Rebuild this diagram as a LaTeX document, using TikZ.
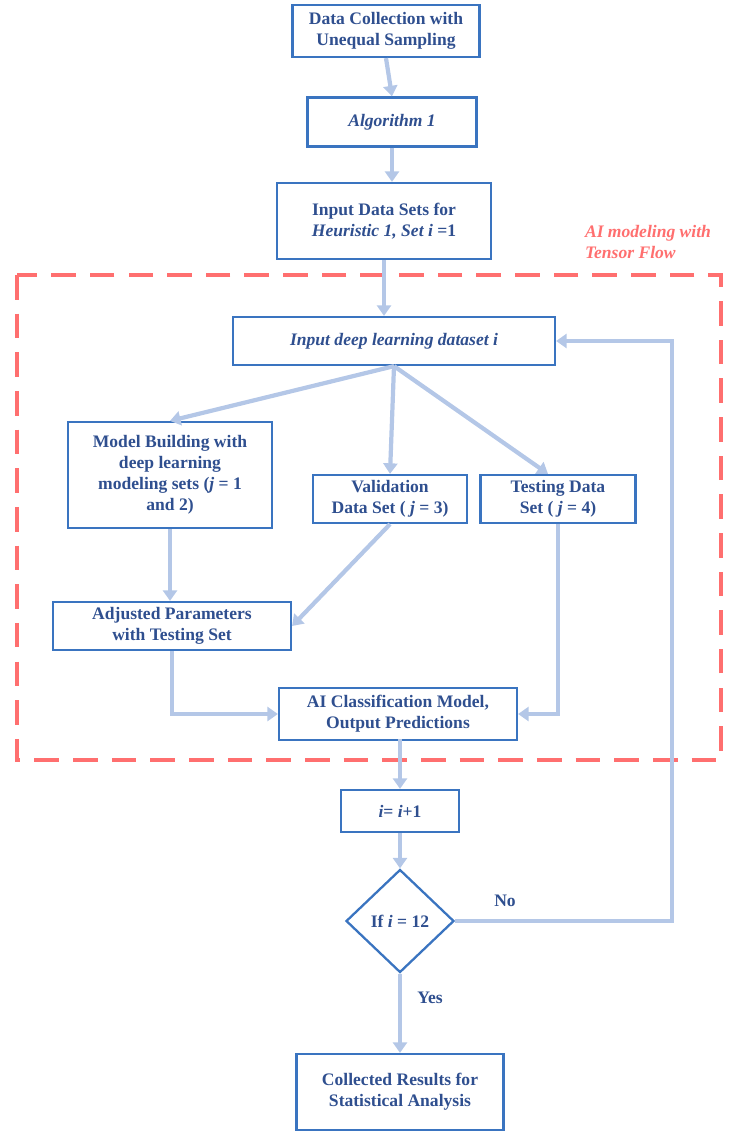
\documentclass[tikz,border=0pt]{standalone}
\usepackage{fontspec}
\setmainfont{Liberation Serif}
\usetikzlibrary{shapes.geometric}
\usetikzlibrary{arrows.meta}
\definecolor{boxblue}{HTML}{3A74C0}
\definecolor{txtblue}{HTML}{2F4F8F}
\definecolor{arrblue}{HTML}{B4C7E7}
\definecolor{dashred}{HTML}{FF6F6F}
\tikzset{
  box/.style = {draw = boxblue, line width = 1.3pt, text = txtblue, font = \fontsize{10}{12}\selectfont\bfseries, align = center, inner sep = 0pt},
  flow/.style = {draw = arrblue, line width = 2.4pt, -{Triangle[length=6pt,width=8pt]}},
}
\begin{document}
\begin{tikzpicture}[x = 0.02cm, y = -0.02cm]
        \useasboundingbox (0,0) rectangle (744,1140);
        \draw[dashred, line width = 2pt, dash pattern = on 14pt off 8pt] (17,275) rectangle (721,760);
        \node[text = dashred, font = \fontsize{10}{12}\selectfont\bfseries\itshape, align = left] (ailabel) at (648,242) {AI modeling with\\Tensor Flow};
        \node[box, minimum width = 3.74cm, minimum height = 1.04cm] (collect) at (386,31) {Data Collection with\\Unequal Sampling};
        \node[box, minimum width = 3.38cm, minimum height = 0.98cm] (algo) at (392,122) {\itshape Algorithm 1};
        \node[box, minimum width = 4.28cm, minimum height = 1.52cm] (input) at (384,221) {Input Data Sets for\\{\itshape Heuristic 1, Set i} =1};
        \node[box, minimum width = 6.44cm, minimum height = 0.96cm] (dataset) at (394,341) {\itshape Input deep learning dataset i};
        \node[box, minimum width = 4.08cm, minimum height = 2.12cm] (model) at (170,475) {Model Building with\\deep learning\\modeling sets ({\itshape j} = 1\\and 2)};
        \node[box, minimum width = 3.08cm, minimum height = 0.96cm] (valid) at (390,499) {Validation\\Data Set ( {\itshape j} = 3)};
        \node[box, minimum width = 3.10cm, minimum height = 0.96cm] (test) at (558,499) {Testing Data\\Set ( {\itshape j} = 4)};
        \node[box, minimum width = 4.76cm, minimum height = 0.96cm] (adjust) at (172,626) {Adjusted Parameters\\with Testing Set};
        \node[box, minimum width = 4.76cm, minimum height = 1.04cm] (classify) at (398,714) {AI Classification Model,\\Output Predictions};
        \node[box, minimum width = 2.36cm, minimum height = 0.84cm] (incr) at (400,811) {{\itshape i}= {\itshape i}+1};
        \node[box, diamond, minimum width = 2.16cm, minimum height = 2.06cm] (check) at (400,921) {If {\itshape i} = 12};
        \node[box, minimum width = 4.14cm, minimum height = 1.52cm] (result) at (400,1092) {Collected Results for\\Statistical Analysis};
        \draw[flow] (collect.south) -- (algo.north);
        \draw[flow] (algo.south) -- (algo.south |- input.north);
        \draw[flow] (input.south) -- (input.south |- dataset.north);
        \draw[flow] (dataset.south) -- (model.north);
        \draw[flow] (dataset.south) -- (valid.north);
        \draw[flow] (dataset.south) -- ([xshift = -0.2cm]test.north);
        \draw[flow] (model.south) -- (model.south |- adjust.north);
        \draw[flow] (valid.south) -- (adjust.east);
        \draw[flow] (adjust.south) |- (classify.west);
        \draw[flow] (test.south) |- (classify.east);
        \draw[flow] (classify.south) -- (classify.south -| incr.north) -- (incr.north);
        \draw[flow] (incr.south) -- (check.north);
        \draw[flow] (check.east) -- (672,921) -- (672,341) -- (dataset.east);
        \draw[flow] (check.south) -- (result.north);
        \node[text = txtblue, font = \fontsize{10}{12}\selectfont\bfseries] (no) at (505,901) {No};
        \node[text = txtblue, font = \fontsize{10}{12}\selectfont\bfseries] (yes) at (430,998) {Yes};
        \end{tikzpicture}
\end{document}
